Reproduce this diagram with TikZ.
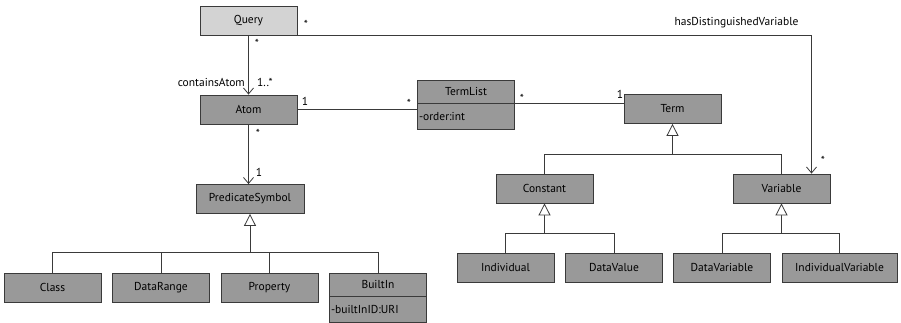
\documentclass[tikz,border=0pt]{standalone}
\usepackage{fontspec}
\setmainfont{PT Sans}
\usepackage{tikz}
\usepackage{xcolor}
\usetikzlibrary{arrows.meta,calc}

\definecolor{boxgray}{HTML}{999999}
\definecolor{querygray}{HTML}{D3D3D3}
\definecolor{linegray}{HTML}{3A3A3A}

\tikzset{
  clase/.style={draw=linegray, line width=0.8pt, fill=boxgray, minimum width=97pt,
    minimum height=29pt, inner sep=0pt, font=\fontsize{11.5}{13}\selectfont},
  atributo/.style={clase, minimum height=26pt, text width=94pt, align=left},
  enlace/.style={draw=linegray, line width=0.8pt},
  nav/.style={enlace, -{Straight Barb[length=6pt,width=10pt,line width=0.8pt]}},
  gen/.style={enlace, -{Triangle[open,length=12pt,width=12pt,fill=white,line width=0.8pt]}},
  mult/.style={inner sep=0pt, font=\fontsize{11.5}{13}\selectfont}
}

\begin{document}
\begin{tikzpicture}[x=1pt, y=-1pt]
            \useasboundingbox (0,0) rectangle (901,323);

            % Clases de la parte superior
            \node[clase, fill=querygray] (query) at (248.5,20.5) {Query};
            \node[clase] (atom) at (248.5,109.5) {Atom};
            \node[clase, minimum height=23pt] (termlist) at (466,91.5) {TermList};
            \node[atributo, anchor=north] (termattr) at (termlist.south) {-order:int};
            \node[clase] (term) at (672.5,109) {Term};

            % Constantes y variables
            \node[clase] (constant) at (544.5,188.5) {Constant};
            \node[clase] (variable) at (781.5,188.5) {Variable};
            \node[clase] (individual) at (505.5,267.5) {Individual};
            \node[clase] (datavalue) at (614,267.5) {DataValue};
            \node[clase] (datavariable) at (722,267.5) {DataVariable};
            \node[clase, minimum width=115pt] (indvariable) at (839.5,267.5) {IndividualVariable};

            % Simbolos de predicado
            \node[clase, minimum width=108pt] (predsym) at (250,199) {PredicateSymbol};
            \node[clase] (class) at (52.5,287.5) {Class};
            \node[clase] (datarange) at (161,287.5) {DataRange};
            \node[clase] (property) at (269.5,287.5) {Property};
            \node[clase, minimum height=23pt] (builtin) at (378,284.5) {BuiltIn};
            \node[atributo, anchor=north] (builtinattr) at (builtin.south) {-builtInID:URI};

            % Asociaciones
            \draw[nav] (query.south) -- (atom.north);
            \draw[nav] (query.south east) -| ([xshift=30pt]variable.north);
            \draw[enlace] (atom.east) -- (atom.east -| termattr.west);
            \coordinate (tl) at ($(term.north west)!0.32!(term.south west)$);
            \draw[enlace] (tl) -- (tl -| termlist.east);
            \draw[nav] (atom.south) -- (atom.south |- predsym.north);

            % Generalizaciones
            \coordinate (ttee) at (term.south |- 0,154);
            \coordinate (ctee) at (constant.south |- 0,233);
            \coordinate (vtee) at (variable.south |- 0,233);
            \coordinate (ptee) at (predsym.south |- 0,252);
            \draw[gen] (ttee) -- (term.south);
            \draw[gen] (ctee) -- (constant.south);
            \draw[gen] (vtee) -- (variable.south);
            \draw[gen] (ptee) -- (predsym.south);
            \foreach \c in {constant,variable} \draw[enlace] (\c.north) |- (ttee);
            \foreach \c in {individual,datavalue} \draw[enlace] (\c.north) |- (ctee);
            \foreach \c in {datavariable,indvariable} \draw[enlace] (\c.north) |- (vtee);
            \foreach \c in {class,datarange,property,builtin} \draw[enlace] (\c.north) |- (ptee);

            % Etiquetas de multiplicidad y roles
            \node[mult] (m1) at (306,24) {*};
            \node[mult] (hdv) at (736.5,23) {hasDistinguishedVariable};
            \node[mult] (m2) at (257,43) {*};
            \node[mult, anchor=east] (ca) at (245,82) {containsAtom};
            \node[mult, anchor=west] (m3) at (257,82) {1..*};
            \node[mult] (m4) at (305,101) {1};
            \node[mult] (m5) at (409,103) {*};
            \node[mult] (m6) at (522,98) {*};
            \node[mult] (m7) at (620,94) {1};
            \node[mult] (m8) at (258,133) {*};
            \node[mult] (m9) at (259,172) {1};
            \node[mult] (m10) at (823,160) {*};
        \end{tikzpicture}
\end{document}
